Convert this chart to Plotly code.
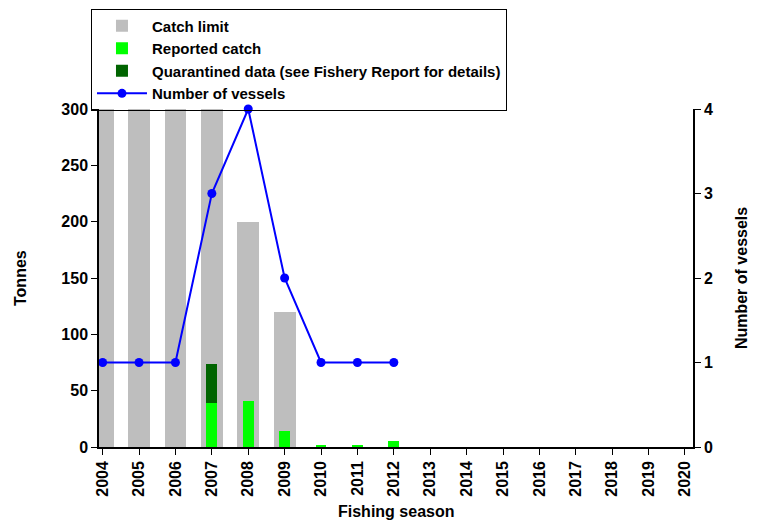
import plotly.graph_objects as go

seasons = [2004, 2005, 2006, 2007, 2008, 2009, 2010, 2011, 2012]
catch_limit = [300, 300, 300, 300, 200, 120, None, None, None]
reported_catch = [0, 0, 0, 39, 41, 14.5, 1.2, 2, 5]
quarantined = [0, 0, 0, 35, 0, 0, 0, 0, 0]
vessels = [1, 1, 1, 3, 4, 2, 1, 1, 1]
tick_years = list(range(2004, 2021))

FONT = "Liberation Sans, Arial, sans-serif"

fig = go.Figure()
fig.add_trace(go.Bar(x=seasons, y=catch_limit, width=0.6, marker=dict(color="#bebebe", line=dict(width=0)),
                     name="Catch limit"))
fig.add_trace(go.Bar(x=seasons, y=reported_catch, width=0.3, marker=dict(color="#00ff00", line=dict(width=0)),
                     name="Reported catch"))
fig.add_trace(go.Bar(x=seasons, y=quarantined, base=reported_catch, width=0.3,
                     marker=dict(color="#006400", line=dict(width=0)),
                     name="Quarantined data (see Fishery Report for details)"))
fig.add_trace(go.Scatter(x=seasons, y=vessels, yaxis="y2", mode="lines+markers",
                         line=dict(color="#0000ff", width=2), marker=dict(color="#0000ff", size=9),
                         cliponaxis=False, name="Number of vessels"))

axis_font = dict(family=FONT, size=16, color="black", weight="bold")
common = dict(ticks="outside", ticklen=6, tickcolor="black", showline=True, linecolor="black",
              linewidth=1.5, showgrid=False, zeroline=False, tickfont=axis_font, automargin=False)
fig.update_layout(
    width=743, height=515,
    margin=dict(l=91, r=58, t=101, b=76, autoexpand=False),
    plot_bgcolor="white", paper_bgcolor="white",
    barmode="overlay", bargap=0,
    font=dict(family=FONT, color="black"),
    showlegend=True,
    legend=dict(x=-0.0135, y=1.297, xanchor="left", yanchor="top",
                bordercolor="black", borderwidth=1, bgcolor="rgba(0,0,0,0)",
                font=dict(family=FONT, size=15, color="black", weight="bold"),
                itemwidth=50, tracegroupgap=0, traceorder="normal"),
    xaxis=dict(range=[2003.9, 2020.22], tickmode="array", tickvals=tick_years,
               ticktext=[str(y) for y in tick_years], tickangle=-90, **common),
    yaxis=dict(range=[0, 300], tickvals=[0, 50, 100, 150, 200, 250, 300], **common),
    yaxis2=dict(range=[0, 4], tickvals=[0, 1, 2, 3, 4], overlaying="y", side="right", **common),
    annotations=[
        dict(text="Fishing season", xref="paper", yref="paper", x=0.5, y=-0.19,
             xanchor="center", yanchor="middle", showarrow=False, font=axis_font),
        dict(text="Tonnes", xref="paper", yref="paper", x=-0.133, y=0.5, textangle=-90,
             xanchor="center", yanchor="middle", showarrow=False, font=axis_font),
        dict(text="Number of vessels", xref="paper", yref="paper", x=1.081, y=0.5, textangle=-90,
             xanchor="center", yanchor="middle", showarrow=False, font=axis_font),
    ],
)

fig.write_html("out.html")
